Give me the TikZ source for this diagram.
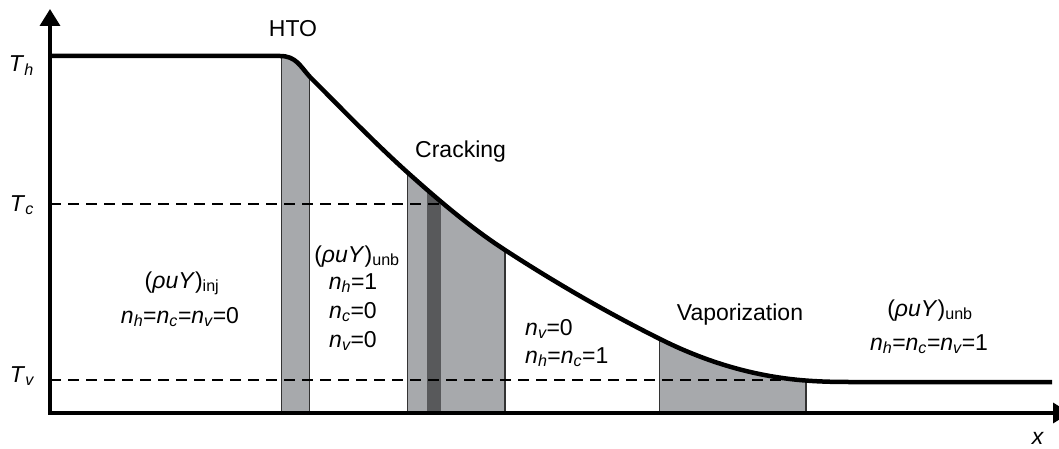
\documentclass[tikz,border=0pt]{standalone}
\usepackage{fontspec}
\setmainfont{Liberation Sans}
\usetikzlibrary{arrows.meta}
\definecolor{lgray}{HTML}{A7A9AC}
\definecolor{dgray}{HTML}{58595B}
\definecolor{edgec}{HTML}{333333}
\newcommand\isub[1]{\textsubscript{\itshape #1}}
\newcommand\usub[1]{\textsubscript{#1}}
\newcommand\rhouY{(\textit{ρuY})}
\begin{document}
\begin{tikzpicture}[x=1pt,y=-1pt,
  lbl/.style={font=\fontsize{23}{27}\selectfont, inner sep=0pt},
  curvestyle/.style={line width=4.5pt, line cap=butt, line join=round},
  axisstyle/.style={line width=3.5pt},
  edgestyle/.style={draw=edgec, line width=1.2pt},
  dashstyle/.style={line width=1.3pt, dash pattern=on 11pt off 7pt}]
\useasboundingbox (0,0) rectangle (1059,449);
\def\curvepath{(50,56) -- (280,56) .. controls (296,56) and (300,66) .. (310,77)
  .. controls (342.3,109.3) and (374.7,142.9) .. (407,172)
  .. controls (439.7,201.4) and (472.3,228.8) .. (505,250)
  .. controls (556.7,283.6) and (608.3,313.2) .. (660,339)
  .. controls (703.3,360.7) and (746.7,373.8) .. (790,379)
  .. controls (810,381.4) and (830,382) .. (850,382) -- (1052,382)}
% shaded strips under the curve
\begin{scope}
  \clip \curvepath -- (1052,413) -- (50,413) -- cycle;
  \fill[lgray] (281.7,0) rectangle (309.3,413);
  \fill[lgray] (407.3,0) rectangle (505,413);
  \fill[dgray] (426.7,0) rectangle (441,413);
  \fill[lgray] (659.3,0) rectangle (806,413);
  \foreach \xx in {281.7,309.3,407.3,505,659.3,806}
    \draw[edgestyle] (\xx,0) -- (\xx,413);
\end{scope}
% dashed levels
\coordinate (tcL) at (50,204);
\coordinate (tcR) at (444,204);
\coordinate (tvL) at (50,380);
\coordinate (tvR) at (795,380);
\draw[dashstyle] (tcL) -- (tcR);
\draw[dashstyle] (tvL) -- (tvR);
% curve
\draw[curvestyle] \curvepath;
% axes
\coordinate (O) at (50,413);
\coordinate (ytip) at (50,9);
\coordinate (xtip) at (1070,413);
\draw[axisstyle, -{Triangle[length=17pt,width=20pt]}] (O) -- (ytip);
\draw[axisstyle, -{Triangle[length=17pt,width=20pt]}] ([xshift=-1.75pt]O) -- (xtip);
% labels
\node[lbl, anchor=base east] (Th) at (34,72) {\textit{T}\isub{h}};
\node[lbl, anchor=base east] (Tc) at (34,211) {\textit{T}\isub{c}};
\node[lbl, anchor=base east] (Tv) at (34,382) {\textit{T}\isub{v}};
\node[lbl, anchor=base] (xlab) at (1038,444) {\textit{x}};
\node[lbl, anchor=base] (hto) at (293,37) {HTO};
\node[lbl, anchor=base west] (crack) at (415,158) {Cracking};
\node[lbl, anchor=base] (vap) at (740,320) {Vaporization};
\node[lbl, anchor=base] (inj1) at (182,288) {\rhouY\usub{inj}};
\node[lbl, anchor=base] (inj2) at (180,323) {\textit{n}\isub{h}=\textit{n}\isub{c}=\textit{n}\isub{v}=0};
\node[lbl, anchor=base] (ua1) at (357,262) {\rhouY\usub{unb}};
\node[lbl, anchor=base] (ua2) at (353,289) {\textit{n}\isub{h}=1};
\node[lbl, anchor=base] (ua3) at (353,318) {\textit{n}\isub{c}=0};
\node[lbl, anchor=base] (ua4) at (353,347) {\textit{n}\isub{v}=0};
\node[lbl, anchor=base west] (mid1) at (525,335) {\textit{n}\isub{v}=0};
\node[lbl, anchor=base west] (mid2) at (525,363) {\textit{n}\isub{h}=\textit{n}\isub{c}=1};
\node[lbl, anchor=base] (ub1) at (930,316) {\rhouY\usub{unb}};
\node[lbl, anchor=base] (ub2) at (929,350) {\textit{n}\isub{h}=\textit{n}\isub{c}=\textit{n}\isub{v}=1};
\end{tikzpicture}
\end{document}
